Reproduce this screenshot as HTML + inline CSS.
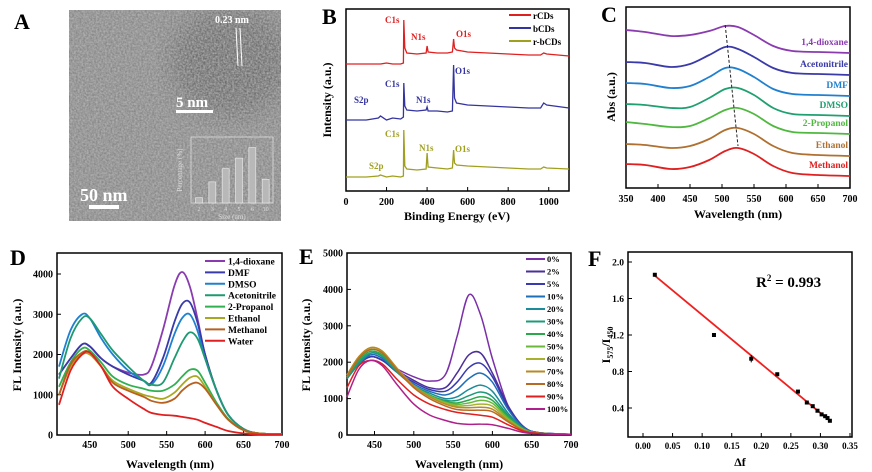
<!DOCTYPE html>
<html><head><meta charset="utf-8">
<style>
html,body{margin:0;padding:0;background:#fff;}
svg{display:block;font-family:"Liberation Serif",serif;font-weight:bold;}
</style></head>
<body>
<svg id="fig" width="872" height="472" viewBox="0 0 872 472" xmlns="http://www.w3.org/2000/svg">
<defs>
<filter id="noise" x="0" y="0" width="100%" height="100%">
<feTurbulence type="fractalNoise" baseFrequency="0.55" numOctaves="2" seed="3"/>
<feColorMatrix type="matrix" values="0 0 0 0 0.5  0 0 0 0 0.5  0 0 0 0 0.5  1.4 0 0 0 -0.25"/>
</filter>
<filter id="blur"><feGaussianBlur stdDeviation="12"/></filter>
<clipPath id="clipA"><rect x="69" y="10" width="212" height="211"/></clipPath>
</defs>
<!-- Panel A -->
<g id="panelA">
<text x="14" y="29" font-size="22">A</text>
<rect x="69" y="10" width="212" height="211" fill="#858585"/>
<g clip-path="url(#clipA)">
<ellipse cx="230" cy="62" rx="60" ry="55" fill="#333" opacity="0.35" filter="url(#blur)"/>
</g>
<rect x="69" y="10" width="212" height="211" filter="url(#noise)" opacity="0.9"/>
<text x="215" y="23" font-size="10" fill="#fff">0.23 nm</text>
<line x1="236" y1="28" x2="238" y2="66" stroke="#fff" stroke-width="1"/>
<line x1="240" y1="28" x2="242" y2="66" stroke="#fff" stroke-width="1"/>
<text x="176" y="107" font-size="15" fill="#fff">5 nm</text>
<rect x="176" y="110" width="37" height="3" fill="#fff"/>
<text x="80" y="201" font-size="18" fill="#fff">50 nm</text>
<rect x="89" y="205" width="30" height="4" fill="#fff"/>
<g id="hist">
<rect x="191" y="137" width="82" height="66" fill="none" stroke="#ddd" stroke-width="0.8"/>
<text x="232" y="219" font-size="7" fill="#ddd" text-anchor="middle" font-weight="normal">Size (nm)</text>
<text transform="translate(182,170) rotate(-90)" font-size="7" fill="#ddd" text-anchor="middle" font-weight="normal">Percentage (%)</text>
</g>
</g>

<!-- Panel B -->
<g id="panelB">
<text x="322" y="24" font-size="22">B</text>
<rect x="346" y="9" width="223" height="182" fill="none" stroke="#000" stroke-width="1.5"/>
<text x="457" y="220" font-size="12" text-anchor="middle">Binding Energy (eV)</text>
<text transform="translate(331,100) rotate(-90)" font-size="12" text-anchor="middle">Intensity (a.u.)</text>
<text x="385" y="23" font-size="9" fill="#e02020">C1s</text>
<text x="411" y="40" font-size="9" fill="#e02020">N1s</text>
<text x="456" y="37" font-size="9" fill="#e02020">O1s</text>
<text x="385" y="87" font-size="9" fill="#3434a0">C1s</text>
<text x="455" y="74" font-size="9" fill="#3434a0">O1s</text>
<text x="354" y="103" font-size="9" fill="#3434a0">S2p</text>
<text x="416" y="103" font-size="9" fill="#3434a0">N1s</text>
<text x="385" y="137" font-size="9" fill="#a0a020">C1s</text>
<text x="419" y="151" font-size="9" fill="#a0a020">N1s</text>
<text x="455" y="152" font-size="9" fill="#a0a020">O1s</text>
<text x="369" y="169" font-size="9" fill="#a0a020">S2p</text>
</g>

<!-- Panel C -->
<g id="panelC">
<text x="601" y="22" font-size="22">C</text>
<rect x="626" y="7" width="224" height="181" fill="none" stroke="#000" stroke-width="1.5"/>
<text x="738" y="218" font-size="12" text-anchor="middle">Wavelength (nm)</text>
<text transform="translate(615,97) rotate(-90)" font-size="12" text-anchor="middle">Abs (a.u.)</text>
</g>

<!-- Panel D -->
<g id="panelD">
<text x="10" y="265" font-size="22">D</text>
<rect x="57" y="253" width="225" height="182" fill="none" stroke="#000" stroke-width="1.5"/>
<text x="170" y="468" font-size="12" text-anchor="middle">Wavelength (nm)</text>
<text transform="translate(21,345) rotate(-90)" font-size="12" text-anchor="middle">FL Intensity (a.u.)</text>
</g>

<!-- Panel E -->
<g id="panelE">
<text x="299" y="264" font-size="22">E</text>
<rect x="347" y="253" width="224" height="182" fill="none" stroke="#000" stroke-width="1.5"/>
<text x="459" y="468" font-size="12" text-anchor="middle">Wavelength (nm)</text>
<text transform="translate(310,345) rotate(-90)" font-size="12" text-anchor="middle">FL Intensity (a.u.)</text>
</g>

<!-- Panel F -->
<g id="panelF">
<text x="588" y="266" font-size="22">F</text>
<rect x="628" y="252" width="224" height="185" fill="none" stroke="#000" stroke-width="1.5"/>
<text x="740" y="466" font-size="12" text-anchor="middle">Δf</text>
<text transform="translate(610,345) rotate(-90)" font-size="12" text-anchor="middle">I<tspan font-size="8" dy="3">575</tspan><tspan dy="-3">/I</tspan><tspan font-size="8" dy="3">450</tspan></text>
<text x="756" y="287" font-size="15">R<tspan font-size="9" dy="-6">2</tspan><tspan dy="6"> = 0.993</tspan></text>
</g>
</svg>
<script>
// ---------- data ----------
const histSizes = ["2","3","4","5","6","10"];
const histPercent = [2, 8, 13, 17, 21, 9];

const xpsEnergy = [0,100,160,170,200,230,270,283,285,290,300,350,395,400,405,450,500,525,531,535,545,600,700,800,900,960,975,990,1100];
const xpsR  = [127,127,127,127,128,127,127,128,171,143,138,137,138,145,139,138,138,139,152,143,141,139,138,137,136,136,138,137,135];
const xpsB  = [71,71,73,75,71,73,72,74,108,85,81,80,81,84,80,80,79,80,126,93,88,86,85,84,83,83,88,86,83];
const xpsRB = [14,14,15,16,14,15,14,15,61,25,22,21,22,38,24,23,22,23,41,28,26,25,24,23,22,22,24,23,22];

const absWl = [350,380,420,450,480,505,525,550,580,610,650,700];
const absDioxane = [158,156,152,153,157,162,161,153,142,137,136,135];
const absAcn = [126,125,121,124,133,141,139,131,120,115,114,113];
const absDmf = [105,104,100,102,111,120,119,111,99,94,93,92];
const absDmso = [84,83,80,81,90,99,100,93,80,74,73,72];
const absProp = [66,64,61,62,70,78,80,74,62,56,55,54];
const absEth = [44,43,40,42,49,58,60,54,42,35,33,32];
const absMeth = [24,23,19,21,28,37,40,34,22,15,13,12];
const absNames = ["1,4-dioxane","Acetonitrile","DMF","DMSO","2-Propanol","Ethanol","Methanol"];
const absPeakStart = [505,163];
const absPeakEnd = [525,42];

const dWl = [410,425,440,450,465,480,500,520,530,545,560,570,580,590,600,615,630,650,670,700];
const dDioxane = [1500,1900,2250,2200,1900,1700,1550,1500,1700,2600,3700,4050,3700,2900,2000,1100,500,150,40,20];
const dDmf = [1500,1900,2250,2200,1900,1700,1500,1350,1300,1900,2800,3250,3300,2800,2000,1100,500,150,40,20];
const dDmso = [1700,2600,3000,2900,2400,2000,1600,1350,1250,1700,2500,2900,3000,2600,1900,1100,500,150,40,20];
const dAcn = [1400,2400,2900,2900,2500,2100,1700,1350,1250,1300,1900,2300,2550,2400,1900,1100,500,150,40,20];
const dProp = [1200,1800,2150,2100,1800,1450,1250,1150,1100,1100,1250,1450,1620,1600,1300,800,400,120,40,20];
const dEth = [1000,1700,2000,2000,1700,1350,1150,1000,950,900,1050,1250,1420,1450,1200,750,380,120,40,20];
const dMeth = [1000,1750,2050,2050,1700,1300,1100,950,850,800,900,1100,1250,1300,1150,750,380,120,40,20];
const dWater = [750,1600,2000,2050,1700,1200,900,650,550,500,480,450,420,380,300,200,100,40,10,10];
const dNames = ["1,4-dioxane","DMF","DMSO","Acetonitrile","2-Propanol","Ethanol","Methanol","Water"];

const eWl = [415,430,445,460,480,500,520,540,555,570,585,600,620,640,660,700];
const e0 = [1600,1950,2150,2050,1800,1600,1480,1650,2700,3850,3300,2100,800,220,60,20];
const e2 = [1600,1950,2150,2050,1750,1500,1300,1300,1700,2200,2250,1700,800,220,60,20];
const e5 = [1550,1950,2150,2050,1700,1450,1250,1200,1450,1850,1970,1600,750,220,60,20];
const e10 = [1550,1950,2200,2100,1700,1400,1200,1100,1250,1550,1700,1450,700,200,60,20];
const e20 = [1550,1950,2250,2150,1700,1350,1150,1000,1050,1250,1370,1200,600,180,50,20];
const e30 = [1550,2000,2250,2150,1700,1350,1100,950,950,1080,1180,1050,540,170,50,20];
const e40 = [1600,2050,2300,2200,1750,1350,1100,920,880,960,1050,950,500,160,50,20];
const e50 = [1600,2100,2350,2250,1750,1350,1080,900,840,880,950,870,460,150,50,20];
const e60 = [1650,2150,2400,2300,1800,1350,1060,880,800,810,850,790,420,140,50,20];
const e70 = [1650,2150,2400,2300,1800,1350,1050,850,760,750,760,710,390,130,50,20];
const e80 = [1600,2100,2350,2250,1750,1300,1000,800,700,680,680,640,360,120,50,20];
const e90 = [1300,1900,2050,1950,1500,1100,850,700,620,580,540,490,280,100,40,20];
const e100 = [1050,1800,2050,1900,1350,850,550,400,320,290,300,280,180,70,30,20];
const eNames = ["0%","2%","5%","10%","20%","30%","40%","50%","60%","70%","80%","90%","100%"];

const fDf = [0.020,0.120,0.183,0.227,0.262,0.277,0.287,0.295,0.302,0.308,0.312,0.316];
const fRatio = [1.86,1.20,0.94,0.77,0.58,0.46,0.42,0.37,0.33,0.31,0.29,0.26];
const fErr = [0.02,0.02,0.04,0.01,0.015,0.01,0.01,0.01,0.01,0.01,0.01,0.01];
const fFitX = [0.020,0.316];
const fFitY = [1.85,0.26];

const bTicks = [0,200,400,600,800,1000];
const cTicks = [350,400,450,500,550,600,650,700];
const dxTicks = [450,500,550,600,650,700];
const dyTicks = [0,1000,2000,3000,4000];
const eyTicks = [0,1000,2000,3000,4000,5000];
const fxTicks = ["0.00","0.05","0.10","0.15","0.20","0.25","0.30","0.35"];
const fyTicks = ["0.4","0.8","1.2","1.6","2.0"];

// ---------- helpers ----------
const NS = "http://www.w3.org/2000/svg";
const svg = document.getElementById('fig');
function el(tag, attrs, parent){
  const e = document.createElementNS(NS, tag);
  for (const k in attrs) e.setAttribute(k, attrs[k]);
  (parent||svg).appendChild(e);
  return e;
}
function lin(d0,d1,r0,r1){ return v => r0 + (v-d0)*(r1-r0)/(d1-d0); }
function smoothPath(xs, ys){
  let d = 'M'+xs[0].toFixed(1)+','+ys[0].toFixed(1);
  for (let i=0;i<xs.length-1;i++){
    const x0=xs[Math.max(i-1,0)], y0=ys[Math.max(i-1,0)];
    const x1=xs[i], y1=ys[i], x2=xs[i+1], y2=ys[i+1];
    const x3=xs[Math.min(i+2,xs.length-1)], y3=ys[Math.min(i+2,xs.length-1)];
    const c1x=x1+(x2-x0)/6, c1y=y1+(y2-y0)/6, c2x=x2-(x3-x1)/6, c2y=y2-(y3-y1)/6;
    d += ' C'+c1x.toFixed(1)+','+c1y.toFixed(1)+' '+c2x.toFixed(1)+','+c2y.toFixed(1)+' '+x2.toFixed(1)+','+y2.toFixed(1);
  }
  return d;
}
function linePath(xs, ys){
  return xs.map((x,i)=>(i?'L':'M')+x.toFixed(1)+','+ys[i].toFixed(1)).join(' ');
}

// ---------- Panel A histogram ----------
const hx = lin(0, 6, 193, 273), hy = lin(0, 25, 203, 137);
const gA = document.getElementById('hist');
histPercent.forEach((v,i)=>{
  const r = el('rect', {x: hx(i)+2.5, y: hy(v), width: 7, height: hy(0)-hy(v), fill:'#b8b8b8', stroke:'#eee', 'stroke-width':0.6}, gA);
  
  
  const t = el('text', {x: hx(i)+6, y: 211, 'font-size': 6, fill:'#ddd', 'text-anchor':'middle', 'font-weight':'normal'}, gA);
  t.textContent = histSizes[i];
  
  
});

// ---------- Panel B ----------
const bx = lin(0, 1100, 346, 569), by = lin(0, 182, 191, 9);
const gB = document.getElementById('panelB');
bTicks.forEach(v=>{
  const tk = el('line', {x1:bx(v), x2:bx(v), y1:191, y2:187, stroke:'#000', 'stroke-width':1}, gB);
  
  
  const t = el('text', {x:bx(v), y:205, 'font-size':10, 'text-anchor':'middle'}, gB);
  t.textContent = v;
  
  
});
[[xpsR,'#e02020','rCDs'],[xpsB,'#3434a0','bCDs'],[xpsRB,'#a0a020','r-bCDs']].forEach((s,i)=>{
  const p = el('path', {d: linePath(xpsEnergy.map(bx), s[0].map(by)), fill:'none', stroke:s[1], 'stroke-width':1.3}, gB);
  
  
  const l = el('line', {x1:509, x2:531, y1:15+i*13, y2:15+i*13, stroke:s[1], 'stroke-width':2}, gB);
  
  
  const t = el('text', {x:533, y:19+i*13, 'font-size':9}, gB);
  t.textContent = s[2];
  
  
});

// ---------- Panel C ----------
const cx = lin(350, 700, 626, 850), cy = lin(0, 181, 188, 7);
const gC = document.getElementById('panelC');
cTicks.forEach(v=>{
  const tk = el('line', {x1:cx(v), x2:cx(v), y1:188, y2:184, stroke:'#000'}, gC);
  
  
  const t = el('text', {x:cx(v), y:202, 'font-size':10, 'text-anchor':'middle'}, gC);
  t.textContent = v;
  
  
});
const absSeries = [absDioxane, absAcn, absDmf, absDmso, absProp, absEth, absMeth];
const absColors = ['#8a3bb0','#3a3aa8','#2080d0','#1fa070','#50b840','#b07030','#e02020'];
absSeries.forEach((s,i)=>{
  const p = el('path', {d: smoothPath(absWl.map(cx), s.map(cy)), fill:'none', stroke:absColors[i], 'stroke-width':1.8}, gC);
  
  
  const t = el('text', {x:848, y:cy(s[s.length-1])-8, 'font-size':9.5, 'text-anchor':'end', fill:absColors[i]}, gC);
  t.textContent = absNames[i];
  
  
});
const dash = el('line', {x1:cx(absPeakStart[0]), y1:cy(absPeakStart[1]), x2:cx(absPeakEnd[0]), y2:cy(absPeakEnd[1]), stroke:'#222', 'stroke-width':1, 'stroke-dasharray':'3,2'}, gC);



// ---------- Panel D ----------
const dx = lin(410, 700, 59, 282), dy = lin(0, 4000, 435, 274);
const gD = document.getElementById('panelD');
dxTicks.forEach(v=>{
  const tk = el('line', {x1:dx(v), x2:dx(v), y1:435, y2:431, stroke:'#000'}, gD);
  
  
  const t = el('text', {x:dx(v), y:448, 'font-size':10, 'text-anchor':'middle'}, gD);
  t.textContent = v;
  
  
});
dyTicks.forEach(v=>{
  const tk = el('line', {x1:57, x2:61, y1:dy(v), y2:dy(v), stroke:'#000'}, gD);
  
  
  const t = el('text', {x:53, y:dy(v)+3.5, 'font-size':10, 'text-anchor':'end'}, gD);
  t.textContent = v;
  
  
});
const dSeries = [dDioxane, dDmf, dDmso, dAcn, dProp, dEth, dMeth, dWater];
const dColors = ['#8a3bb0','#3a3aa8','#2080d0','#1f9a70','#30b050','#a8a820','#b86020','#e02020'];
dSeries.forEach((s,i)=>{
  const p = el('path', {d: smoothPath(dWl.map(dx), s.map(dy)), fill:'none', stroke:dColors[i], 'stroke-width':1.8}, gD);
  
  
  const ly = 261 + i*11.4;
  const l = el('line', {x1:205, x2:225, y1:ly, y2:ly, stroke:dColors[i], 'stroke-width':2}, gD);
  
  
  const t = el('text', {x:228, y:ly+3.5, 'font-size':9.5}, gD);
  t.textContent = dNames[i];
  
  
});

// ---------- Panel E ----------
const ex = lin(415, 700, 347, 571), ey = lin(0, 5000, 435, 253);
const gE = document.getElementById('panelE');
dxTicks.forEach(v=>{
  const tk = el('line', {x1:ex(v), x2:ex(v), y1:435, y2:431, stroke:'#000'}, gE);
  
  
  const t = el('text', {x:ex(v), y:448, 'font-size':10, 'text-anchor':'middle'}, gE);
  t.textContent = v;
  
  
});
eyTicks.forEach(v=>{
  const tk = el('line', {x1:347, x2:351, y1:ey(v), y2:ey(v), stroke:'#000'}, gE);
  
  
  const t = el('text', {x:343, y:ey(v)+3.5, 'font-size':10, 'text-anchor':'end'}, gE);
  t.textContent = v;
  
  
});
const eSeries = [e0,e2,e5,e10,e20,e30,e40,e50,e60,e70,e80,e90,e100];
const eColors = ['#7b2fa8','#4b2f9a','#3a3ab0','#1f6fb8','#1a8c9a','#1e9a78','#2aa84a','#6ab83a','#a8b030','#b88a25','#b86a25','#e02020','#b0208a'];
eSeries.forEach((s,i)=>{
  const p = el('path', {d: smoothPath(eWl.map(ex), s.map(ey)), fill:'none', stroke:eColors[i], 'stroke-width':1.5}, gE);
  
  
  const ly = 259 + i*12.5;
  const l = el('line', {x1:526, x2:545, y1:ly, y2:ly, stroke:eColors[i], 'stroke-width':2}, gE);
  
  
  const t = el('text', {x:547, y:ly+3, 'font-size':8.5}, gE);
  t.textContent = eNames[i];
  
  
});

// ---------- Panel F ----------
const fx = lin(0, 0.35, 643, 850), fy = lin(0.4, 2.0, 408, 262);
const gF = document.getElementById('panelF');
fxTicks.forEach(v=>{
  const x = fx(parseFloat(v));
  const tk = el('line', {x1:x, x2:x, y1:437, y2:433, stroke:'#000'}, gF);
  
  
  const t = el('text', {x:x, y:449, 'font-size':9, 'text-anchor':'middle'}, gF);
  t.textContent = v;
  
  
});
fyTicks.forEach(v=>{
  const y = fy(parseFloat(v));
  const tk = el('line', {x1:628, x2:632, y1:y, y2:y, stroke:'#000'}, gF);
  
  
  const t = el('text', {x:624, y:y+3.5, 'font-size':9.5, 'text-anchor':'end'}, gF);
  t.textContent = v;
  
  
});
const fit = el('line', {x1:fx(fFitX[0]), y1:fy(fFitY[0]), x2:fx(fFitX[1]), y2:fy(fFitY[1]), stroke:'#f02020', 'stroke-width':1.8}, gF);


fDf.forEach((v,i)=>{
  const x = fx(v), y = fy(fRatio[i]);
  const eb = el('line', {x1:x, x2:x, y1:fy(fRatio[i]+fErr[i]), y2:fy(fRatio[i]-fErr[i]), stroke:'#000', 'stroke-width':1}, gF);
  
  
  const pt = el('rect', {x:x-2, y:y-2, width:4, height:4, fill:'#000'}, gF);
  
  
});
</script>
</body></html>
